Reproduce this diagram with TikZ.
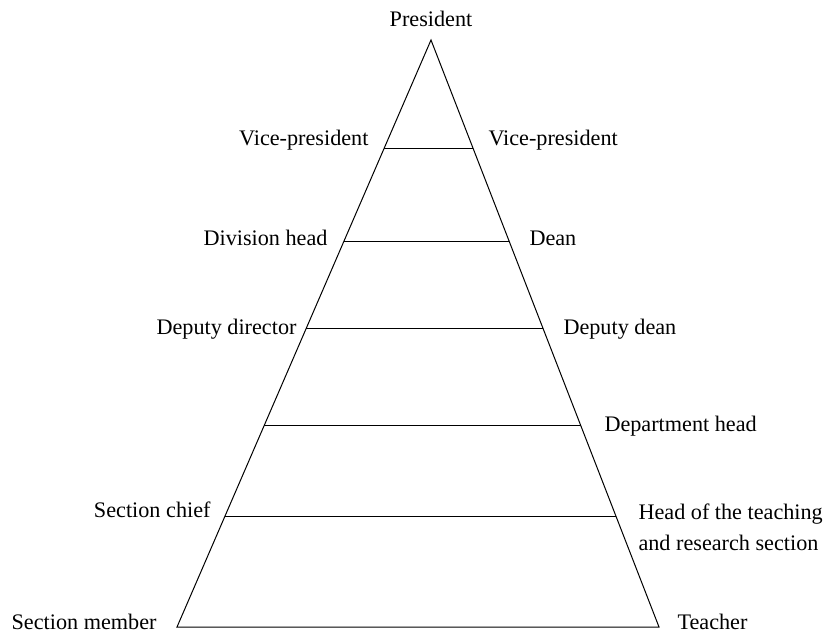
\documentclass[tikz,border=0pt]{standalone}
\usepackage{fontspec}
\setmainfont{Liberation Serif}
\usetikzlibrary{calc}
\begin{document}
\begin{tikzpicture}[x=0.5pt,y=-0.5pt,line width=0.5pt,
    lbl/.style={inner sep=0pt,font=\fontsize{11.1}{15.5}\selectfont}]
  \useasboundingbox (0,0) rectangle (824,632);
  \coordinate (top) at (431,40);
  \coordinate (bl) at (177,627);
  \coordinate (br) at (659,627);
  \foreach \t/\n in {0.184/1,0.344/2,0.492/3,0.656/4,0.811/5}{
    \coordinate (l\n) at ($(top)!\t!(bl)$);
    \coordinate (r\n) at ($(top)!\t!(br)$);
  }
  \draw (top) -- (bl) -- (br) -- cycle;
  \begin{scope}[-]
    \draw (l1) to (r1);
    \draw (l2) to (r2);
    \draw (l3) to (r3);
    \draw (l4) to (r4);
    \draw (l5) to (r5);
  \end{scope}
  \node[lbl,anchor=base] (pres) at (431,26) {President};
  \node[lbl,anchor=base east] (vpl) at (369,145) {Vice-president};
  \node[lbl,anchor=base west] (vpr) at (488,145) {Vice-president};
  \node[lbl,anchor=base east] (divh) at (328,245) {Division head};
  \node[lbl,anchor=base west] (dean) at (529,245) {Dean};
  \node[lbl,anchor=base east] (depdir) at (297,334) {Deputy director};
  \node[lbl,anchor=base west] (depdean) at (563,334) {Deputy dean};
  \node[lbl,anchor=base west] (deph) at (604,431) {Department head};
  \node[lbl,anchor=base east] (secc) at (211,517) {Section chief};
  \node[lbl,anchor=west,align=left] (headtr) at (638,527)
    {Head of the teaching\\and research section};
  \node[lbl,anchor=base east] (secm) at (157,629) {Section member};
  \node[lbl,anchor=base west] (teach) at (677,629) {Teacher};
\end{tikzpicture}
\end{document}
